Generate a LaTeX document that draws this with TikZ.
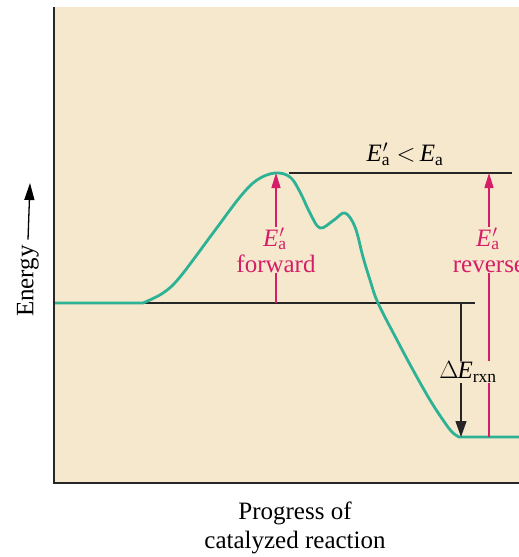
\documentclass[tikz,border=0pt]{standalone}
\usepackage{fontspec}
\setmainfont{Liberation Serif}
\usetikzlibrary{arrows.meta}
\definecolor{bgc}{RGB}{246,232,204}
\definecolor{curvec}{RGB}{45,178,150}
\definecolor{pinkc}{RGB}{214,30,104}
\newcommand{\EaPrime}{\textit{E}\rlap{\textsubscript{a}}\kern1pt$^{\prime}$\hphantom{\textsubscript{a}}\kern-4pt}
\newcommand{\EaPlain}{\textit{E}\textsubscript{a}}
\tikzset{
  axisline/.style={line width=2.4pt, black!85},
  levelline/.style={line width=1.4pt, black!85},
  pinkarrow/.style={line width=1.5pt, pinkc, -{Triangle[length=15pt,width=9pt]}},
  blackarrow/.style={line width=1.2pt, black!85, -{Triangle[length=16pt,width=11pt]}},
  pinklabel/.style={text=pinkc, fill=bgc, inner sep=1pt, align=center},
  gaplabel/.style={fill=bgc, inner sep=1pt},
  energycurve/.style={line width=2.8pt, curvec, line join=round, line cap=round}
}
\begin{document}
\begin{tikzpicture}[x=1pt,y=-1pt,font=\fontsize{25}{28}\selectfont]
\useasboundingbox (0,0) rectangle (519,557);
\begin{scope}
\clip (0,0) rectangle (519,557);
% background panel
\fill[bgc] (54,7) rectangle (519,483);
% named coordinates
\coordinate (axTop) at (54,7);
\coordinate (axOrig) at (54,483);
\coordinate (axRight) at (519,483);
\coordinate (reactL) at (143,303);
\coordinate (reactR) at (475,303);
\coordinate (peak) at (276,173);
\coordinate (topL) at (289,173);
\coordinate (topR) at (512,173);
\coordinate (fBase) at (276,303);
\coordinate (rBase) at (489,437);
\coordinate (rTop) at (489,173);
\coordinate (dTop) at (461,303);
\coordinate (dBot) at (461,437);
\coordinate (enTip) at (30,183);
% level lines
\draw[levelline] (reactL) -- (reactR);
\draw[levelline] (topL) -- (topR);
% energy curve
\draw[energycurve] (54,303) -- (reactL)
  plot[smooth, tension=0.6] coordinates {(143,303) (163,293) (180,277) (213,233) (240,197) (257,180) (275,173) (290,177) (300,192) (310,213) (320,228) (334,220) (345,213) (355,227) (363,257) (370,280) (378,303) (397,340) (413,370) (430,400) (443,420) (452,432) (459,437)}
  -- (519,437);
% arrows
\draw[pinkarrow] (fBase) -- (peak);
\draw[pinkarrow] (rBase) -- (rTop);
\draw[blackarrow] (dTop) -- (dBot);
% labels
\node[pinklabel] (fwd) at (276,250) {\EaPrime\\[-2pt]forward};
\node[pinklabel] (rev) at (489,250) {\EaPrime\\[-2pt]reverse};
\node[gaplabel] (drxn) at (468,372) {$\Delta$\kern-1pt\textit{E}\textsubscript{rxn}};
\node (cmp) at (405,154) {\EaPrime\,$<$\,\EaPlain};
% axes
\draw[axisline] (axTop) -- (axOrig) -- (axRight);
% axis titles
\node[rotate=90] (energy) at (28,281) {Energy};
\draw[line width=1.3pt, -{Triangle[length=17pt,width=10pt]}] (energy.east) ++(0,-2) -- (enTip);
\node[align=center] (prog) at (295,528) {Progress of\\[1pt]catalyzed reaction};
\end{scope}
\end{tikzpicture}
\end{document}
